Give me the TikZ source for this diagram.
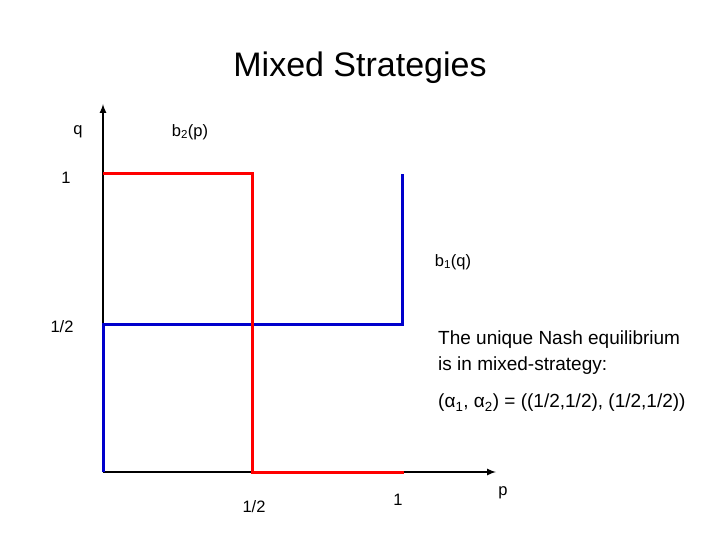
\documentclass[tikz,border=0pt]{standalone}
\usepackage{fontspec}
\setmainfont{Liberation Sans}
\begin{document}
\begin{tikzpicture}[x=1pt,y=-1pt,
 lab/.style={font=\fontsize{16.5}{18}\selectfont,inner sep=0pt},
 txt/.style={font=\fontsize{19}{22}\selectfont,inner sep=0pt,anchor=west},
 redl/.style={draw=red,line width=3pt},
 bluel/.style={draw=blue!80!black,line width=3pt}]
\useasboundingbox (0,0) rectangle (720,540);
\node[font=\fontsize{34}{38}\selectfont] (title) at (360,68) {Mixed Strategies};
\coordinate (o) at (103,472);
\coordinate (ytop) at (103,104);
\coordinate (xend) at (496,472);
\coordinate (r1) at (103,174);
\coordinate (r2) at (252,174);
\coordinate (r3) at (252,472);
\coordinate (r4) at (404,472);
\coordinate (b1) at (103,324);
\coordinate (b2) at (402,324);
\coordinate (b3) at (402,174);
\draw[line width=2pt,-latex] (o) -- (ytop);
\draw[line width=2pt,-latex] (o) -- (xend);
\draw[bluel] (o) -- (b1) -- (b2) -- (b3);
\draw[redl] (r1) -- (r2) -- (r3) -- (r4);
\node[lab] (q) at (78,132) {q};
\node[lab] (b2p) at (190,132) {b\textsubscript{2}(p)};
\node[lab] (one) at (66,178) {1};
\node[lab] (b1q) at (453,262) {b\textsubscript{1}(q)};
\node[lab] (half) at (62,327) {1/2};
\node[lab] (xhalf) at (254,507) {1/2};
\node[lab] (xone) at (398,500) {1};
\node[lab] (p) at (503,493) {p};
\node[txt] (t1) at (438,340) {The unique Nash equilibrium};
\node[txt] (t2) at (438,366) {is in mixed-strategy:};
\node[txt] (t3) at (438,403) {(α\textsubscript{1}, α\textsubscript{2}) = ((1/2,1/2), (1/2,1/2))};
\end{tikzpicture}
\end{document}
